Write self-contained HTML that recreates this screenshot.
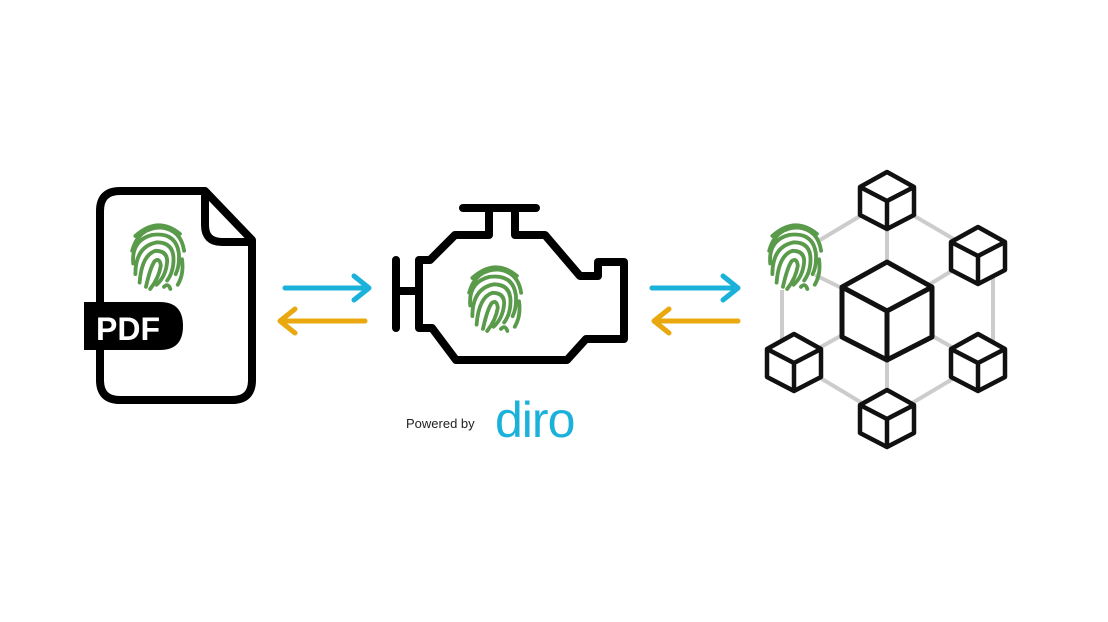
<!DOCTYPE html>
<html><head><meta charset="utf-8"><style>
html,body{margin:0;padding:0;background:#fff;width:1108px;height:622px;overflow:hidden}
svg{display:block}
</style></head><body>
<svg width="1108" height="622" viewBox="0 0 1108 622" xmlns="http://www.w3.org/2000/svg">
<defs>
<g id="fp" fill="none" stroke="#5a9a4b" stroke-width="3.6" stroke-linecap="round">
  <path d="M6,16 Q27,-3 48,14"/>
  <path d="M3,30 Q9,8 30,8 Q49,10 52,30"/>
  <path d="M4,42 Q2,20 22,15 Q44,12 47,32 Q48,44 44,52"/>
  <path d="M6,52 Q6,26 26,22 Q42,22 42,38 Q42,50 36,58"/>
  <path d="M10,60 Q12,34 25,30 Q36,30 36,40 Q35,54 26,62"/>
  <path d="M16,64 Q20,46 24,40 Q29,36 30,44 Q28,56 20,66"/>
  <path d="M50,38 Q52,52 46,62"/>
  <path d="M33,64 Q37,60 39,66"/>
</g>
<g id="sc" fill="#fff" stroke="#111" stroke-width="4.5" stroke-linejoin="round">
  <path d="M0,-28 L27,-13 L27,15 L0,29 L-27,15 L-27,-13 Z"/>
  <path d="M-27,-13 L0,1 L27,-13 M0,1 L0,29" fill="none"/>
</g>
</defs>

<!-- PDF document -->
<path d="M120,191 L205,191 L252,240 L252,380 Q252,400 232,400 L120,400 Q100,400 100,380 L100,211 Q100,191 120,191 Z" fill="#fff" stroke="#000" stroke-width="8" stroke-linejoin="round"/>
<path d="M205,191 L205,225 Q205,242 222,242 L252,242" fill="none" stroke="#000" stroke-width="8" stroke-linejoin="round"/>
<use href="#fp" transform="translate(129,219) scale(1.06)"/>
<path d="M84,302 L160,302 Q183,302 183,326 Q183,350 160,350 L84,350 Z" fill="#000"/>
<text x="96" y="340" font-family="Liberation Sans, sans-serif" font-weight="bold" font-size="32" fill="#fff">PDF</text>

<!-- arrows -->
<g fill="none" stroke-width="5" stroke-linecap="round" stroke-linejoin="round">
  <path d="M285,288 L369,288 M354,276 L369,288 L354,300" stroke="#1ab1da"/>
  <path d="M365,321 L280,321 M295,309 L280,321 L295,333" stroke="#e8a80e"/>
  <path d="M652,288 L738,288 M723,276 L738,288 L723,300" stroke="#1ab1da"/>
  <path d="M738,321 L654,321 M669,309 L654,321 L669,333" stroke="#e8a80e"/>
</g>

<!-- engine -->
<g fill="none" stroke="#000" stroke-width="8" stroke-linejoin="round" stroke-linecap="round">
  <path d="M463,208 L536,208"/>
  <path d="M489,208 L489,235 L455,235 L430,260 L419,260 L419,328 L432,328 L456,360 L567,360 L586,339 L624,339 L624,262 L598,262 L598,276 L580,276 L545,235 L515,235 L515,208"/>
  <path d="M396,260 L396,328 M396,291 L419,291"/>
</g>
<use href="#fp" transform="translate(466,261) scale(1.06)"/>

<text x="406" y="428" font-family="Liberation Sans, sans-serif" font-size="13" fill="#222">Powered by</text>
<text x="495" y="437" font-family="Liberation Sans, sans-serif" font-size="50" fill="#1ab1da" letter-spacing="-1">diro</text>

<!-- network -->
<g stroke="#cccccc" stroke-width="4" fill="none">
  <path d="M887,200 L993,262 L993,355 L887,418 L782,355 L782,290"/>
  <path d="M887,200 L820,240"/>
  <path d="M887,200 L887,310 M978,255 L887,310 M978,362 L887,310 M887,418 L887,310 M794,362 L887,310 M815,275 L887,310"/>
</g>
<use href="#fp" transform="translate(766,219) scale(1.06)"/>
<g fill="#fff" stroke="#111" stroke-width="5" stroke-linejoin="round">
  <path d="M887,262 L932,287 L932,337 L887,360 L842,337 L842,287 Z"/>
  <path d="M842,287 L887,311 L932,287 M887,311 L887,360" fill="none"/>
</g>
<use href="#sc" x="887" y="200"/>
<use href="#sc" x="978" y="255"/>
<use href="#sc" x="978" y="362"/>
<use href="#sc" x="887" y="418"/>
<use href="#sc" x="794" y="362"/>
</svg>
</body></html>
